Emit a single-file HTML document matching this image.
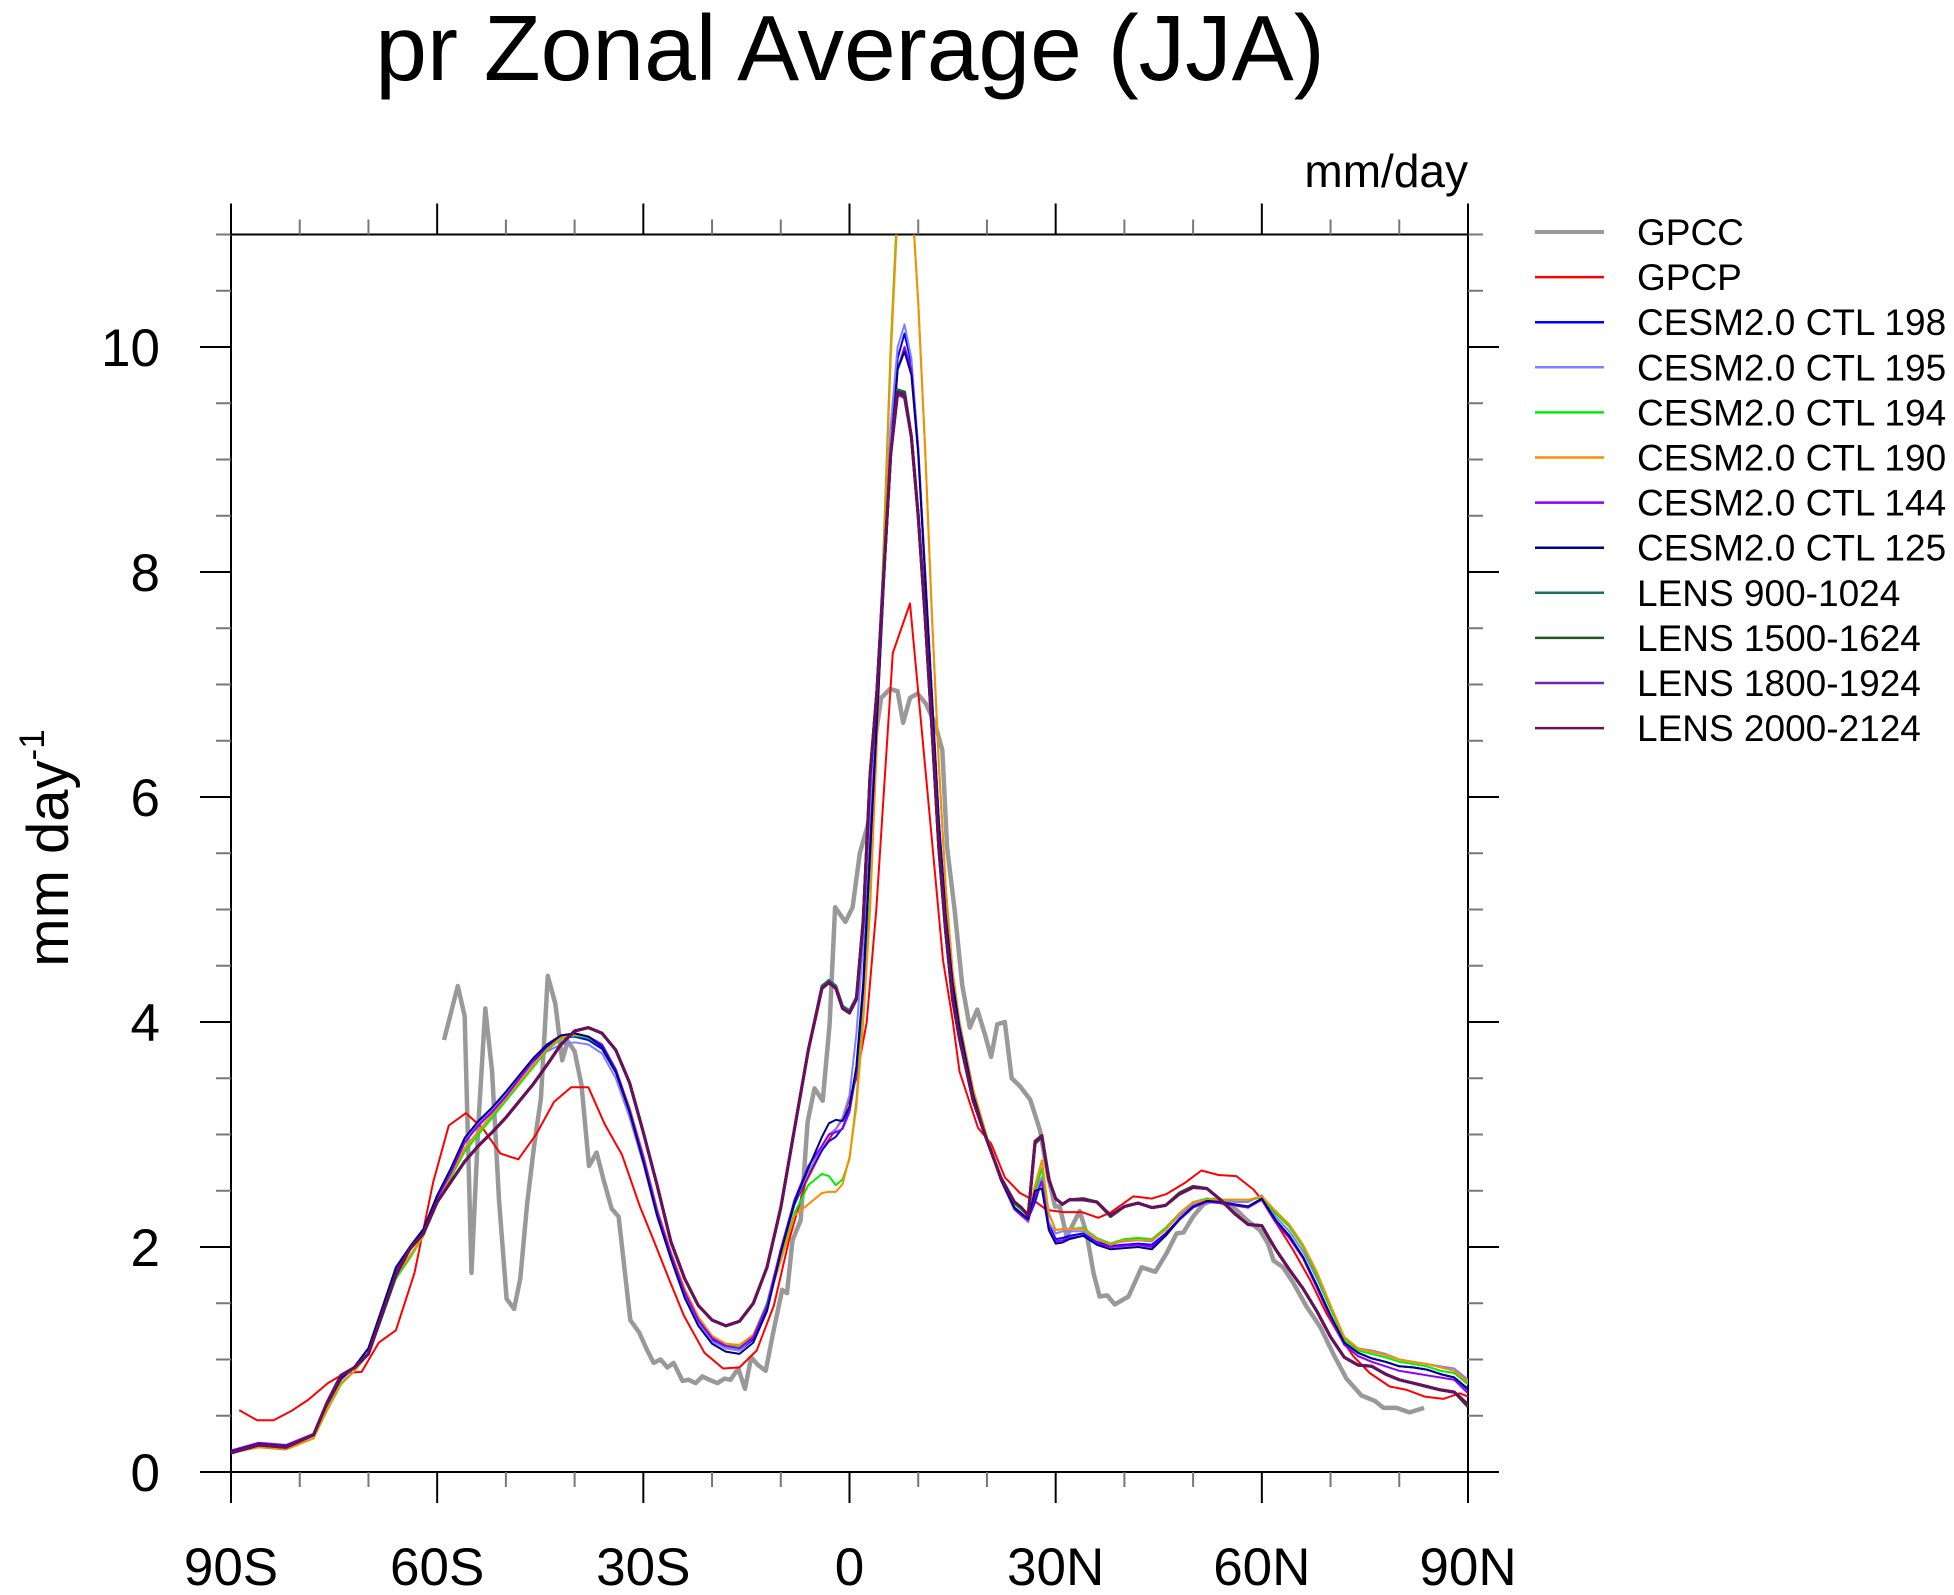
<!DOCTYPE html>
<html><head><meta charset="utf-8"><style>
html,body{margin:0;padding:0;background:#fff}
svg{display:block;font-family:"Liberation Sans",Arial,sans-serif}
</style></head><body>
<svg id="chart" width="1954" height="1595" viewBox="0 0 1954 1595" xmlns="http://www.w3.org/2000/svg">
<rect width="1954" height="1595" fill="#fff"/>
<text x="850" y="80" font-size="93" text-anchor="middle" fill="#000">pr Zonal Average (JJA)</text>
<text x="1468" y="187" font-size="46" text-anchor="end" fill="#000">mm/day</text>
<text transform="translate(68,848) rotate(-90)" font-size="58" text-anchor="middle" fill="#000">mm day<tspan dy="-24" font-size="35">-1</tspan></text>
<defs><clipPath id="plotclip"><rect x="231" y="234.5" width="1237" height="1237.5"/></clipPath></defs>
<g id="axes"></g>
<g id="series" clip-path="url(#plotclip)"></g>
<g id="legend"></g>
</svg>
<script>
// ---- data ----
const modelLat = [-90,-86,-82,-78,-76,-74,-72,-70,-68,-66,
-64,-62,-60,-58,-56,-54,-52,-50,-48,-46,
-44,-42,-40,-38,-36,-34,-32,-30,-28,-26,
-24,-22,-20,-18,-16,-14,-12,-10,-8,-6,
-4,-3,-2,-1,0,1,2,3,4,5,
6,7,8,9,10,11,12,13,14,15,
16,18,20,22,24,25,26,27,28,29,
30,31,32,34,36,38,40,42,44,46,
48,50,52,54,56,58,60,62,64,66,
68,70,72,74,76,78,80,82,84,86,
88,90];
const cesm198 = [0.18,0.25,0.23,0.33,0.6,0.82,0.93,1.1,1.45,1.8,
1.98,2.15,2.45,2.68,2.95,3.1,3.22,3.35,3.5,3.65,
3.78,3.86,3.87,3.84,3.76,3.55,3.2,2.78,2.3,1.92,
1.58,1.33,1.17,1.1,1.08,1.18,1.45,1.96,2.38,2.65,
2.86,2.94,2.98,3.06,3.22,3.6,4.35,5.6,6.8,8.0,
9.1,9.9,10.12,9.85,9.1,8.0,6.9,5.8,4.95,4.35,
3.95,3.35,2.95,2.6,2.35,2.3,2.25,2.4,2.6,2.2,
2.07,2.08,2.1,2.12,2.05,2.01,2.02,2.03,2.02,2.12,
2.25,2.36,2.41,2.4,2.38,2.36,2.43,2.24,2.1,1.91,
1.66,1.39,1.15,1.06,1.01,0.98,0.94,0.93,0.91,0.87,
0.84,0.73];
const cesm195 = [0.18,0.25,0.23,0.33,0.6,0.82,0.93,1.1,1.45,1.8,
1.98,2.15,2.45,2.68,2.95,3.1,3.22,3.35,3.5,3.63,
3.74,3.8,3.82,3.8,3.72,3.5,3.15,2.74,2.27,1.9,
1.56,1.32,1.16,1.1,1.08,1.2,1.5,1.98,2.4,2.66,
2.9,3.0,3.05,3.15,3.35,3.9,4.7,5.9,7.0,8.2,
9.3,10.0,10.2,9.9,9.1,8.0,6.9,5.8,4.95,4.35,
3.95,3.35,2.95,2.6,2.33,2.28,2.22,2.5,2.62,2.22,
2.12,2.14,2.14,2.14,2.06,2.03,2.05,2.06,2.05,2.16,
2.28,2.38,2.43,2.42,2.4,2.4,2.46,2.27,2.14,1.96,
1.72,1.45,1.2,1.1,1.08,1.05,1.0,0.98,0.96,0.94,
0.92,0.82];
const cesm194 = [0.17,0.22,0.2,0.3,0.55,0.78,0.9,1.05,1.38,1.72,
1.9,2.1,2.4,2.62,2.85,3.0,3.15,3.3,3.45,3.6,
3.75,3.85,3.88,3.86,3.78,3.57,3.22,2.8,2.32,1.95,
1.62,1.37,1.2,1.13,1.12,1.22,1.5,1.92,2.3,2.55,
2.65,2.63,2.55,2.6,2.78,3.3,4.1,5.1,6.6,8.3,
10.0,11.3,11.9,11.4,10.4,9.1,7.6,6.3,5.2,4.45,
4.0,3.4,2.98,2.62,2.38,2.33,2.28,2.5,2.7,2.3,
2.15,2.16,2.16,2.17,2.08,2.03,2.07,2.08,2.07,2.17,
2.3,2.4,2.43,2.42,2.42,2.42,2.44,2.3,2.18,2.0,
1.75,1.45,1.18,1.08,1.05,1.02,0.98,0.96,0.94,0.9,
0.88,0.78];
const cesm190 = [0.17,0.22,0.2,0.3,0.56,0.79,0.9,1.06,1.4,1.74,
1.92,2.1,2.42,2.64,2.88,3.03,3.18,3.32,3.47,3.62,
3.76,3.86,3.89,3.87,3.8,3.58,3.24,2.82,2.34,1.96,
1.63,1.38,1.21,1.14,1.13,1.22,1.48,1.88,2.28,2.38,
2.48,2.49,2.49,2.56,2.8,3.25,4.0,5.0,6.5,8.2,
9.9,11.2,11.8,11.4,10.4,9.1,7.6,6.3,5.2,4.45,
4.0,3.4,2.98,2.62,2.4,2.35,2.3,2.55,2.77,2.3,
2.15,2.16,2.16,2.16,2.07,2.02,2.06,2.06,2.06,2.15,
2.3,2.4,2.42,2.42,2.42,2.42,2.45,2.32,2.2,2.02,
1.78,1.48,1.2,1.1,1.07,1.04,1.0,0.98,0.96,0.93,
0.9,0.8];
const cesm144 = [0.19,0.26,0.24,0.34,0.61,0.83,0.94,1.1,1.45,1.8,
1.98,2.14,2.44,2.66,2.93,3.08,3.2,3.34,3.5,3.66,
3.8,3.88,3.9,3.87,3.8,3.58,3.22,2.8,2.32,1.94,
1.6,1.35,1.19,1.12,1.1,1.2,1.48,1.98,2.42,2.72,
2.9,3.0,3.02,3.05,3.2,3.55,4.3,5.5,6.7,7.9,
9.0,9.8,10.0,9.8,9.1,8.0,6.9,5.8,4.95,4.35,
3.95,3.35,2.95,2.6,2.34,2.28,2.24,2.45,2.58,2.18,
2.05,2.06,2.08,2.1,2.03,2.0,2.01,2.02,2.0,2.1,
2.24,2.35,2.4,2.39,2.37,2.35,2.42,2.22,2.08,1.9,
1.64,1.37,1.13,1.03,0.98,0.94,0.9,0.88,0.86,0.84,
0.82,0.7];
const cesm125 = [0.18,0.25,0.23,0.33,0.6,0.83,0.94,1.1,1.46,1.82,
2.0,2.16,2.46,2.7,2.97,3.12,3.24,3.38,3.53,3.68,
3.8,3.88,3.9,3.87,3.78,3.56,3.2,2.76,2.28,1.9,
1.55,1.3,1.14,1.07,1.05,1.15,1.43,1.95,2.4,2.7,
2.98,3.1,3.13,3.12,3.25,3.6,4.3,5.5,6.7,7.9,
9.0,9.8,9.96,9.75,9.05,7.95,6.85,5.78,4.95,4.35,
3.95,3.35,2.95,2.6,2.35,2.3,2.25,2.5,2.52,2.15,
2.03,2.04,2.07,2.1,2.02,1.98,1.99,2.0,1.98,2.1,
2.25,2.36,2.41,2.4,2.38,2.36,2.43,2.24,2.1,1.91,
1.66,1.39,1.15,1.06,1.01,0.98,0.94,0.93,0.91,0.87,
0.84,0.74];
const lens900 = [0.17,0.24,0.22,0.33,0.62,0.86,0.93,1.05,1.4,1.75,
1.98,2.12,2.4,2.58,2.76,2.9,3.02,3.15,3.3,3.45,
3.62,3.8,3.92,3.95,3.9,3.75,3.46,3.02,2.55,2.05,
1.72,1.48,1.35,1.3,1.34,1.5,1.82,2.35,3.05,3.75,
4.32,4.37,4.32,4.14,4.1,4.22,4.9,6.2,6.95,8.0,
9.05,9.62,9.6,9.2,8.5,7.6,6.6,5.55,4.8,4.2,
3.85,3.3,2.95,2.62,2.4,2.35,2.28,2.94,2.99,2.6,
2.43,2.38,2.42,2.42,2.4,2.28,2.36,2.39,2.35,2.37,
2.47,2.53,2.52,2.42,2.3,2.2,2.19,1.98,1.8,1.63,
1.43,1.2,1.02,0.95,0.94,0.87,0.82,0.79,0.76,0.73,
0.71,0.6];
const lens1500 = [0.17,0.24,0.22,0.33,0.62,0.86,0.93,1.05,1.4,1.75,
1.98,2.12,2.4,2.58,2.76,2.9,3.02,3.15,3.3,3.45,
3.62,3.8,3.92,3.95,3.9,3.75,3.46,3.02,2.55,2.05,
1.72,1.48,1.35,1.3,1.34,1.5,1.82,2.35,3.05,3.75,
4.3,4.35,4.3,4.12,4.08,4.2,4.9,6.2,6.95,8.0,
9.05,9.6,9.6,9.2,8.5,7.6,6.6,5.55,4.8,4.2,
3.85,3.3,2.95,2.62,2.4,2.35,2.28,2.92,2.98,2.6,
2.43,2.38,2.42,2.43,2.4,2.27,2.36,2.39,2.35,2.37,
2.48,2.54,2.52,2.42,2.3,2.2,2.19,1.98,1.8,1.63,
1.43,1.2,1.02,0.95,0.94,0.87,0.82,0.79,0.76,0.73,
0.71,0.58];
const lens1800 = [0.17,0.24,0.22,0.33,0.62,0.86,0.93,1.05,1.4,1.75,
1.98,2.12,2.4,2.58,2.76,2.9,3.02,3.15,3.3,3.45,
3.62,3.8,3.92,3.95,3.9,3.75,3.46,3.02,2.55,2.05,
1.72,1.48,1.35,1.3,1.34,1.5,1.82,2.35,3.05,3.75,
4.3,4.35,4.3,4.12,4.08,4.2,4.9,6.2,6.95,8.0,
9.05,9.58,9.55,9.2,8.5,7.6,6.6,5.55,4.8,4.2,
3.85,3.3,2.95,2.62,2.4,2.35,2.28,2.94,2.99,2.6,
2.43,2.38,2.42,2.42,2.4,2.28,2.36,2.39,2.35,2.37,
2.47,2.53,2.52,2.42,2.3,2.2,2.19,1.98,1.8,1.63,
1.43,1.2,1.02,0.95,0.94,0.87,0.82,0.79,0.76,0.73,
0.71,0.6];
const lens2000 = [0.17,0.24,0.22,0.33,0.62,0.86,0.93,1.05,1.4,1.75,
1.98,2.12,2.4,2.58,2.76,2.9,3.02,3.15,3.3,3.45,
3.62,3.8,3.92,3.95,3.9,3.75,3.46,3.02,2.55,2.05,
1.72,1.48,1.35,1.3,1.34,1.5,1.82,2.35,3.05,3.75,
4.3,4.35,4.3,4.12,4.08,4.2,4.9,6.2,6.95,8.0,
9.05,9.6,9.57,9.2,8.5,7.6,6.6,5.55,4.8,4.2,
3.85,3.3,2.95,2.62,2.4,2.35,2.28,2.94,2.99,2.6,
2.43,2.38,2.42,2.42,2.4,2.28,2.36,2.39,2.35,2.37,
2.47,2.53,2.52,2.42,2.3,2.2,2.19,1.98,1.8,1.63,
1.43,1.2,1.02,0.95,0.94,0.87,0.82,0.79,0.76,0.73,
0.71,0.6];
const gpcpLat = [-88.8,-86.2,-83.8,-81.3,-78.8,-75.9,-73.4,-71,-68.5,-66,
-63.3,-60.6,-58.3,-55.8,-53.3,-50.8,-48.2,-45.6,-43,-40.5,
-38,-35.6,-33.1,-30.5,-28.5,-26.5,-24.1,-21.1,-18.4,-16,
-13.5,-11,-8.8,-6.4,-3.9,-1,1,2.5,3.9,6.3,
8.8,11.2,13.6,15,16,18.7,20.6,22.6,24.8,26.7,
28.7,31.1,33.8,36.2,38.1,41.3,44,46.1,48.8,51.2,
53.7,56.3,58.8,60,61.7,64.6,67,69.4,71.4,73.3,
75.7,78.6,81.1,83.7,86.4,88.8,90];
const gpcpVal = [0.55,0.46,0.46,0.54,0.64,0.79,0.88,0.89,1.15,1.26,
1.77,2.57,3.08,3.19,3.05,2.83,2.78,3.0,3.29,3.42,
3.42,3.09,2.82,2.36,2.06,1.75,1.39,1.06,0.92,0.93,
1.08,1.48,2.06,2.57,2.87,3.14,3.5,4.0,5.0,7.28,
7.72,6.14,4.55,4.02,3.56,3.06,2.92,2.62,2.48,2.42,
2.33,2.31,2.31,2.26,2.31,2.45,2.43,2.47,2.57,2.68,
2.64,2.63,2.51,2.42,2.25,1.97,1.71,1.41,1.20,1.03,
0.88,0.76,0.73,0.67,0.65,0.70,0.67];
const gpccLat = [-59,-57,-56,-55,-54,-53,-52,-51,-49.9,-48.8,
-47.9,-46.9,-45.9,-44.9,-43.9,-42.8,-41.8,-41,-40,-39,
-37.9,-36.8,-35.8,-34.6,-33.6,-31.9,-30.6,-29.5,-28.5,-27.5,
-26.5,-25.6,-24.3,-23.4,-22.4,-21.4,-20.4,-19.2,-18.2,-17.3,
-16.2,-15.2,-14.3,-13.3,-12.2,-11.1,-9.8,-9.1,-8.3,-7.1,
-6.1,-5.1,-3.9,-2.9,-2.1,-0.6,0.45,1.5,2.8,3.7,
4.6,5.9,7,7.8,8.8,9.9,11.1,12.4,13.5,14.2,
15.3,16.4,17.5,18.6,19.7,20.6,21.5,22.6,23.6,24.8,
26.3,27.7,28.9,29.9,30.6,31.6,33.5,34.5,35.5,36.4,
37.5,38.6,40.6,42.5,44.5,46.1,47.6,48.6,50,51.5,
52.9,54.9,56.3,57.8,59.7,60.9,61.7,63.1,64.6,66.5,
68.5,70.4,72.3,74.5,76.5,77.7,79.6,81.5,83.6];
const gpccVal = [3.84,4.32,4.05,1.77,3.1,4.12,3.56,2.42,1.54,1.45,
1.72,2.39,2.9,3.32,4.41,4.16,3.66,3.83,3.74,3.44,
2.72,2.84,2.6,2.34,2.27,1.35,1.24,1.09,0.97,1.0,
0.93,0.97,0.81,0.82,0.79,0.85,0.82,0.79,0.83,0.82,
0.92,0.74,1.02,0.95,0.9,1.24,1.62,1.59,2.06,2.24,
3.11,3.41,3.3,3.98,5.02,4.89,5.02,5.5,5.78,6.5,
6.88,6.96,6.94,6.66,6.88,6.92,6.83,6.66,6.42,5.55,
5.0,4.33,3.95,4.11,3.89,3.69,3.98,4.0,3.5,3.43,
3.31,3.04,2.63,2.36,2.36,2.09,2.32,2.12,1.77,1.56,
1.57,1.49,1.56,1.82,1.78,1.94,2.12,2.13,2.27,2.38,
2.42,2.38,2.33,2.24,2.15,2.03,1.88,1.82,1.68,1.47,
1.29,1.05,0.83,0.68,0.63,0.57,0.57,0.53,0.57];
const seriesNames = ["GPCC","GPCP","CESM2.0 CTL 198","CESM2.0 CTL 195","CESM2.0 CTL 194","CESM2.0 CTL 190","CESM2.0 CTL 144","CESM2.0 CTL 125","LENS 900-1024","LENS 1500-1624","LENS 1800-1924","LENS 2000-2124"];
const xTickLats = [-90,-60,-30,0,30,60,90];
const xTickLabels = ["90S","60S","30S","0","30N","60N","90N"];
const yTickVals = [0,2,4,6,8,10];
const yTickLabels = ["0","2","4","6","8","10"];

// ---- scales ----
const X0=231, X1=1468, Y0=1472, YTOP=234.5, YMAX=11;
function xs(lat){return X0+(lat+90)/180*(X1-X0);}
function ys(v){return Y0-v/YMAX*(Y0-YTOP);}
const NS="http://www.w3.org/2000/svg";
function mk(tag,attrs,parent){const e=document.createElementNS(NS,tag);for(const k in attrs)e.setAttribute(k,attrs[k]);parent.appendChild(e);return e;}

const axes=document.getElementById('axes');
const frame=mk('rect',{x:X0,y:YTOP,width:X1-X0,height:Y0-YTOP,fill:'none',stroke:'#000','stroke-width':2},axes);


for(let v=0;v<=YMAX+0.001;v+=0.5){
  const major=Math.abs(v%2)<0.001;
  const len=major?31:15, col=major?'#000':'#777';
  const y=ys(v);
  const t1=mk('line',{x1:X0-len,x2:X0,y1:y,y2:y,stroke:col,'stroke-width':2},axes);
  
  
  const t2=mk('line',{x1:X1,x2:X1+len,y1:y,y2:y,stroke:col,'stroke-width':2},axes);
  
  
}
yTickVals.forEach((v,i)=>{
  const t=mk('text',{x:160,y:ys(v)+19,'font-size':53,'text-anchor':'end',fill:'#000'},axes);
  t.textContent=yTickLabels[i];
  
  
});
for(let lat=-90;lat<=90;lat+=10){
  const major=lat%30===0;
  const len=major?31:15, col=major?'#000':'#777';
  const x=xs(lat);
  const b=mk('line',{x1:x,x2:x,y1:Y0,y2:Y0+len,stroke:col,'stroke-width':2},axes);
  
  
  const t=mk('line',{x1:x,x2:x,y1:YTOP-len,y2:YTOP,stroke:col,'stroke-width':2},axes);
  
  
}
xTickLats.forEach((lat,i)=>{
  const t=mk('text',{x:xs(lat),y:1585,'font-size':53,'text-anchor':'middle',fill:'#000'},axes);
  t.textContent=xTickLabels[i];
  
  
});

// ---- series ----
const seriesData=[
 [gpccLat,gpccVal,'#999999',4.5],
 [gpcpLat,gpcpVal,'#ff0000',2],
 [modelLat,cesm198,'#0000ff',2],
 [modelLat,cesm195,'#8080ff',2],
 [modelLat,cesm194,'#00ee00',2],
 [modelLat,cesm190,'#ff8c00',2],
 [modelLat,cesm144,'#8a00ff',2],
 [modelLat,cesm125,'#000088',2],
 [modelLat,lens900,'#1d6f66',3],
 [modelLat,lens1500,'#1e5a28',3],
 [modelLat,lens1800,'#6b2ab0',3],
 [modelLat,lens2000,'#6a0f5a',3]
];
const sg=document.getElementById('series');
seriesData.forEach((s,i)=>{
  const [la,va,col,w]=s;
  const n=Math.min(la.length,va.length);
  let d='';
  for(let k=0;k<n;k++){d+=(k?'L':'M')+xs(la[k]).toFixed(1)+','+ys(va[k]).toFixed(1);}
  const p=mk('path',{d:d,fill:'none',stroke:col,'stroke-width':w,'stroke-linejoin':'round'},sg);
  
  
});

// ---- legend ----
const lg=document.getElementById('legend');
seriesData.forEach((s,i)=>{
  const y=232+i*45.1;
  const g=mk('g',{},lg);
  
  
  mk('line',{x1:1535,x2:1604,y1:y,y2:y,stroke:s[2],'stroke-width':i===0?4:2.5},g);
  const t=mk('text',{x:1637,y:y+13,'font-size':37,fill:'#000'},g);
  t.textContent=seriesNames[i];
});
</script>
</body></html>
